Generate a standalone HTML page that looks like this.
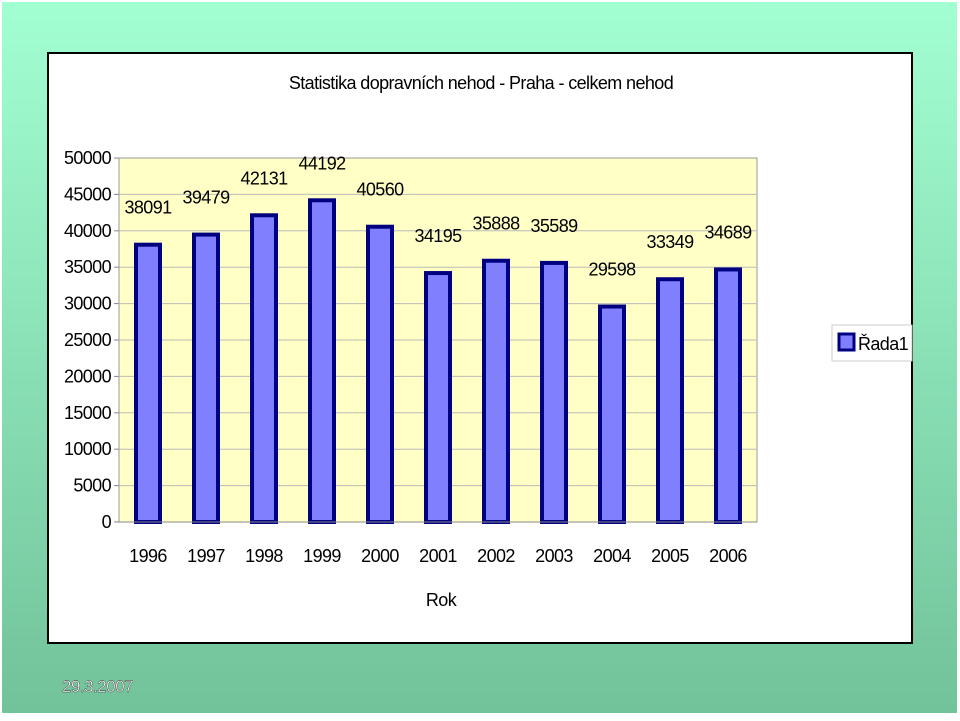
<!DOCTYPE html>
<html><head><meta charset="utf-8"><style>
html,body{margin:0;padding:0;}
body{width:960px;height:716px;overflow:hidden;background:#fff;font-family:"Liberation Sans",sans-serif;}
</style></head><body>
<svg id="chart" width="960" height="716" xmlns="http://www.w3.org/2000/svg" font-family="Liberation Sans, sans-serif">
<defs><linearGradient id="bg" x1="0" y1="0" x2="0" y2="1"><stop offset="0" stop-color="#a2ffd2"/><stop offset="1" stop-color="#72c29a"/></linearGradient></defs>
<rect x="2" y="2" width="955" height="711" fill="url(#bg)"/>
<rect x="48" y="53" width="864" height="590" fill="#fff" stroke="#000" stroke-width="2"/>
<text x="481" y="89" text-anchor="middle" font-size="18" letter-spacing="-0.6" fill="#000">Statistika dopravních nehod - Praha - celkem nehod</text>
<rect x="119" y="158" width="638" height="364" fill="#ffffc6" stroke="#999" stroke-width="1"/>
<g id="grid"></g><g id="yt"></g><g id="bars"></g><g id="xt"></g>
<line x1="119" y1="522" x2="757" y2="522" stroke="#888"/>
<text x="441" y="606" text-anchor="middle" font-size="18" letter-spacing="-0.6">Rok</text>
<g>
<rect x="832" y="325" width="80" height="36" fill="#fff" stroke="#ccc"/>
<rect x="839" y="334" width="15" height="16" fill="#8080ff" stroke="#000080" stroke-width="3"/>
<text x="858" y="350" font-size="18" letter-spacing="-0.6">Řada1</text>
</g>
<text x="62" y="692" font-size="17" fill="#fff" stroke="#333" stroke-width="0.4" letter-spacing="-0.5">29.3.2007</text>
</svg>
<script>
const categories=["1996","1997","1998","1999","2000","2001","2002","2003","2004","2005","2006"];
const values=[38091,39479,42131,44192,40560,34195,35888,35589,29598,33349,34689];
const yTicks=[0,5000,10000,15000,20000,25000,30000,35000,40000,45000,50000];
const NS="http://www.w3.org/2000/svg";
const x0=119,x1=757,y0=522,y1=158,ymax=50000;
const bw=(x1-x0)/categories.length;
const Y=v=>y0-(v/ymax)*(y0-y1);
const X=i=>x0+bw*(i+0.5);
function mk(t,a,p){const e=document.createElementNS(NS,t);for(const k in a)e.setAttribute(k,a[k]);p.appendChild(e);return e;}
const grid=document.getElementById('grid'),yt=document.getElementById('yt'),bars=document.getElementById('bars'),xt=document.getElementById('xt');
yTicks.forEach(v=>{
  if(v>0&&v<ymax){const g=mk('line',{x1:x0,x2:x1,y1:Y(v),y2:Y(v),stroke:'#bbb','stroke-width':1},grid);
  
  }
  const tk=mk('line',{x1:x0-5,x2:x0,y1:Y(v),y2:Y(v),stroke:'#888'},yt);
  
  
  const t=mk('text',{x:111,y:Y(v)+6,'text-anchor':'end','font-size':18,'letter-spacing':'-0.6'},yt);
  
  
  t.textContent=v;
});
values.forEach((v,i)=>{
  const w=24,cx=X(i);
  const r=mk('rect',{x:cx-w/2,y:Y(v),width:w,height:y0-Y(v),fill:'#8080ff',stroke:'#000080','stroke-width':4},bars);
  
  
  const lb=mk('text',{x:cx,y:Y(v)-31+(i%2?0:0),'text-anchor':'middle','font-size':18,'letter-spacing':'-0.6'},bars);
  
  
  lb.textContent=v;
  const xl=mk('text',{x:cx,y:562,'text-anchor':'middle','font-size':18,'letter-spacing':'-0.6'},xt);
  
  
  xl.textContent=categories[i];
});
</script>
</body></html>
